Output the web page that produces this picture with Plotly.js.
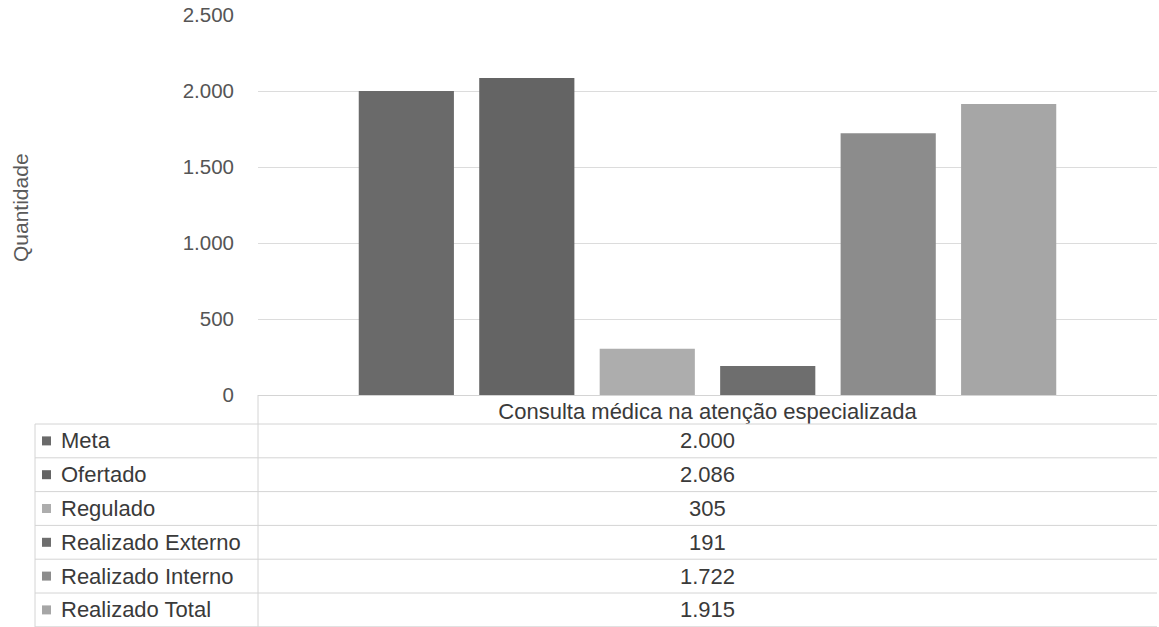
<!DOCTYPE html>
<html>
<head>
<meta charset="utf-8">
<script src="https://cdn.plot.ly/plotly-3.0.1.min.js"></script>
<style>html,body{margin:0;padding:0;background:#fff;}#chart{width:1159px;height:627px;}</style>
</head>
<body>
<div id="chart"></div>
<script>
// ---- data ----
const categories = ['Consulta médica na atenção especializada'];
const seriesNames = ['Meta', 'Ofertado', 'Regulado', 'Realizado Externo', 'Realizado Interno', 'Realizado Total'];
const seriesValues = [2000, 2086, 305, 191, 1722, 1915];
const tickValues = [0, 500, 1000, 1500, 2000, 2500];
const tickLabels = ['0', '500', '1.000', '1.500', '2.000', '2.500'];
const yTitle = 'Quantidade';

// ---- style ----
const seriesColors = ['#6a6a6a', '#646464', '#adadad', '#6e6e6e', '#8c8c8c', '#a6a6a6'];
const W = 1159, H = 627;
const plotL = 258, plotR = 1157, plotT = 15, plotB = 395;
const px2x = p => (p - plotL) / (plotR - plotL);
const py2y = p => (plotB - p) / (plotB - plotT);
const fmt = v => String(v).replace(/\B(?=(\d{3})+(?!\d))/g, '.');

const FONT = 'Liberation Sans, Arial, sans-serif';
const TXT = '#3a3a3a';
const traces = seriesNames.map((name, i) => ({
  type: 'bar',
  name: name,
  x: categories,
  y: [seriesValues[i]],
  marker: {color: seriesColors[i], line: {width: 0}},
  hoverinfo: 'none'
}));

// table geometry
const headerTop = 395, rowTop = 424, rowH = 33.8, tableLeft = 35;
const shapes = [];
const annotations = [];
const LINE = {color: '#d4d4d4', width: 1};
shapes.push({type: 'line', xref: 'paper', yref: 'paper', x0: 0, x1: 0, y0: py2y(headerTop), y1: py2y(H), line: LINE});
shapes.push({type: 'line', xref: 'paper', yref: 'paper', x0: px2x(tableLeft), x1: px2x(tableLeft), y0: py2y(rowTop), y1: py2y(H), line: LINE});
for (let r = 0; r <= seriesNames.length; r++) {
  const y = rowTop + r * rowH;
  shapes.push({type: 'line', xref: 'paper', yref: 'paper', x0: px2x(tableLeft), x1: 1, y0: py2y(y), y1: py2y(y), line: LINE});
}
seriesNames.forEach((name, i) => {
  const cy = rowTop + (i + 0.5) * rowH;
  shapes.push({type: 'rect', xref: 'paper', yref: 'paper', x0: px2x(42), x1: px2x(51), y0: py2y(cy - 4.5), y1: py2y(cy + 4.5), fillcolor: seriesColors[i], line: {width: 0}});
  annotations.push({xref: 'paper', yref: 'paper', x: px2x(59), y: py2y(cy), xanchor: 'left', yanchor: 'middle', showarrow: false, text: name, font: {family: FONT, size: 22, color: TXT}});
  annotations.push({xref: 'paper', yref: 'paper', x: 0.5, y: py2y(cy), xanchor: 'center', yanchor: 'middle', showarrow: false, text: fmt(seriesValues[i]), font: {family: FONT, size: 22, color: TXT}});
});
annotations.push({xref: 'paper', yref: 'paper', x: px2x(20), y: py2y(208), xanchor: 'center', yanchor: 'middle', textangle: -90, showarrow: false, text: yTitle, font: {family: FONT, size: 21, color: '#5a5a5a'}});

const layout = {
  width: W, height: H,
  margin: {l: plotL, r: W - plotR, t: plotT, b: H - plotB, pad: 0},
  paper_bgcolor: '#ffffff', plot_bgcolor: '#ffffff',
  showlegend: false,
  barmode: 'group',
  bargap: 0.196,
  bargroupgap: 0.21,
  font: {family: FONT},
  xaxis: {
    type: 'category',
    showgrid: false, zeroline: false, showline: false,
    ticks: '', ticklabelstandoff: 1,
    tickfont: {family: FONT, size: 22, color: TXT}
  },
  yaxis: {
    range: [0, 2500],
    tickvals: tickValues, ticktext: tickLabels,
    showgrid: true, gridcolor: '#dcdcdc', gridwidth: 1,
    zeroline: true, zerolinecolor: '#d4d4d4', zerolinewidth: 1,
    showline: false, ticks: '', ticklabelstandoff: 23,
    tickfont: {family: FONT, size: 20.5, color: '#555555'}
  },
  shapes: shapes,
  annotations: annotations
};
Plotly.newPlot('chart', traces, layout, {staticPlot: true, displayModeBar: false});
</script>
</body>
</html>
